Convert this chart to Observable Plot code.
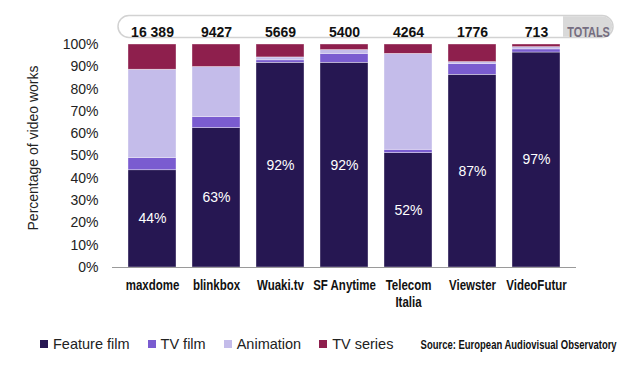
<!DOCTYPE html>
<html><head><meta charset="utf-8">
<script src="https://cdn.jsdelivr.net/npm/d3@7"></script>
<script src="https://cdn.jsdelivr.net/npm/@observablehq/plot@0.6"></script>
<style>
body{margin:0;background:#fff;}
#wrap{position:relative;width:633px;height:377px;overflow:hidden;font-family:"Liberation Sans",Arial,sans-serif;}
#legend{position:absolute;left:40px;top:336px;display:flex;align-items:center;font-size:14.5px;color:#222;}
#legend .item{display:flex;align-items:center;margin-right:18px;}
#legend .sw{width:8px;height:8px;margin-right:5px;}
#source{position:absolute;right:16px;top:338px;font-family:"Liberation Sans",Arial,sans-serif;font-weight:bold;font-size:12.5px;color:#111;white-space:nowrap;transform-origin:right center;}
</style>
</head><body><div id="wrap"><div id="chart"></div><div id="legend"></div><div id="source">Source: European Audiovisual Observatory</div></div>
<script>
const platforms = ["maxdome","blinkbox","Wuaki.tv","SF Anytime","Telecom Italia","Viewster","VideoFutur"];
const totalLabels = ["16 389","9427","5669","5400","4264","1776","713"];
const genres = ["Feature film","TV film","Animation","TV series"];
const colors = ["#261752","#7a5cd0","#c4bcea","#8e1f4d"];
const featureFilm = [43.6,62.5,91.8,91.8,51.3,86.4,96.4];
const tvFilm =      [5.5, 5.0, 1.1, 4.0, 1.5, 4.9, 1.4];
const animation =   [39.6,22.4,1.3, 1.7, 43.0,0.8, 1.0];
const tvSeries =    [11.3,10.1,5.8, 2.5, 4.2, 7.9, 1.2];
const featureLabels = ["44%","63%","92%","92%","52%","87%","97%"];
const yTicks = [0,10,20,30,40,50,60,70,80,90,100];

const series = [featureFilm, tvFilm, animation, tvSeries];
const data = [];
genres.forEach((g, gi) => platforms.forEach((p, pi) => data.push({platform: p, genre: g, value: series[gi][pi]})));
const featureRows = platforms.map((p, i) => ({platform: p, value: featureFilm[i], label: featureLabels[i]}));
const totalRows = platforms.map((p, i) => ({platform: p, total: totalLabels[i]}));

const W = 633, H = 330;
const chart = Plot.plot({
  width: W, height: H,
  marginLeft: 112, marginRight: 57, marginTop: 44, marginBottom: H - 267,
  style: {fontFamily: "'Liberation Sans', Arial, sans-serif", background: "white"},
  x: {domain: platforms, padding: 0.25, label: null},
  y: {domain: [0, 100], label: null},
  color: {domain: genres, range: colors},
  marks: [
    Plot.barY(data, {x: "platform", y: "value", fill: "genre", order: genres, stroke: "white", strokeWidth: 0.6, strokeOpacity: 0.6}),
    Plot.ruleY([0], {stroke: "#9a9a9a", strokeWidth: 1.2}),
    Plot.text(featureRows, {x: "platform", y: d => d.value / 2, text: "label", fill: "white", fontSize: 14}),
    Plot.text(totalRows, {x: "platform", text: "total", frameAnchor: "top", dy: -17, fontSize: 14, fontWeight: "bold", fill: "#111"}),
    Plot.text(["TOTALS"], {frameAnchor: "top-right", dx: 12, dy: -17, text: d => d, fontSize: 14, fontWeight: "bold", fill: "#756d80", textAnchor: "middle"}),
    Plot.text(["Percentage of video works"], {frameAnchor: "left", dx: -79, dy: -8, rotate: -90, textAnchor: "middle", text: d => d, fontSize: 14, fill: "#222"}),
    Plot.axisY({ticks: yTicks, tickSize: 0, tickPadding: 14, tickFormat: d => d + "%", fontSize: 14, fill: "#222", label: null}),
    Plot.axisX({tickSize: 0, tickPadding: 11, tickFormat: d => d === "Telecom Italia" ? "Telecom\nItalia" : d, fontWeight: "bold", fontSize: 14, lineHeight: 1.2, fill: "#111", label: null})
  ]
});

const svg = d3.select(chart);
// decorative pill behind the totals row
const deco = svg.insert("g", ":first-child");
deco.append("rect").attr("x", 118).attr("y", 15.5).attr("width", 495).attr("height", 22).attr("rx", 11)
  .attr("fill", "white").attr("stroke", "#d2d2d2").attr("stroke-width", 1.5);
deco.append("path").attr("d", "M563,16.25 H602 A10.25,10.25 0 0 1 602,36.75 H563 Z").attr("fill", "#d9d9d9");

document.getElementById("chart").appendChild(chart);

// emulate a condensed (narrow) face by compressing glyphs horizontally
function condense(el, factor) {
  const parts = el.querySelectorAll("tspan");
  const targets = parts.length ? Array.from(parts) : [el];
  targets.forEach(t => {
    const len = t.getComputedTextLength();
    t.setAttribute("textLength", (len * factor).toFixed(1));
    t.setAttribute("lengthAdjust", "spacingAndGlyphs");
  });
}
svg.selectAll('g[aria-label="x-axis tick label"] text').each(function(){ condense(this, 0.82); });
svg.selectAll("text").filter(function(){ return this.textContent === "TOTALS"; }).each(function(){ condense(this, 0.78); });

const legend = d3.select("#legend");
genres.forEach((g, i) => {
  const it = legend.append("div").attr("class", "item");
  it.append("div").attr("class", "sw").style("background", colors[i]);
  it.append("span").text(g);
});
const src = document.getElementById("source");
const sw = src.getBoundingClientRect().width;
src.style.transform = `scaleX(${(196 / sw).toFixed(3)})`;
</script>
</body></html>
